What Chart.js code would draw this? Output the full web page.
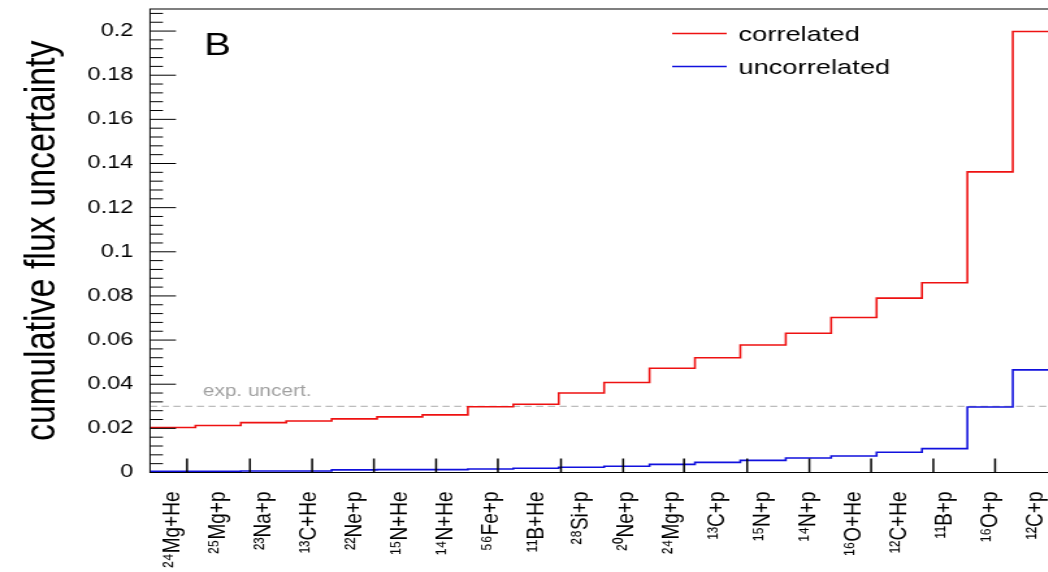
<!DOCTYPE html>
<html>
<head>
<meta charset="utf-8">
<script src="https://cdn.jsdelivr.net/npm/chart.js@4"></script>
<style>
  html, body { margin: 0; padding: 0; background: #fff; overflow: hidden; }
  /* a figura original está esticada na horizontal */
  #wrap { width: 830px; height: 572px; transform: scaleX(1.3); transform-origin: 0 0; }
</style>
</head>
<body>
<div id="wrap"><canvas id="grafico" width="830" height="572"></canvas></div>
<script>
var categorias = ['²⁴Mg+He', '²⁵Mg+p', '²³Na+p', '¹³C+He', '²²Ne+p', '¹⁵N+He', '¹⁴N+He', '⁵⁶Fe+p',
  '¹¹B+He', '²⁸Si+p', '²⁰Ne+p', '²⁴Mg+p', '¹³C+p', '¹⁵N+p', '¹⁴N+p', '¹⁶O+He', '¹²C+He',
  '¹¹B+p', '¹⁶O+p', '¹²C+p'];
var correlated = [0.0204, 0.0213, 0.0226, 0.0233, 0.0243, 0.0252, 0.0261, 0.0298, 0.0309, 0.0360,
  0.0408, 0.0472, 0.0520, 0.0578, 0.0631, 0.0702, 0.0790, 0.0860, 0.1362, 0.1998];
var uncorrelated = [0.0006, 0.0006, 0.0007, 0.0007, 0.0012, 0.0013, 0.0013, 0.0016, 0.0019, 0.0024,
  0.0028, 0.0037, 0.0046, 0.0055, 0.0066, 0.0075, 0.0092, 0.0108, 0.0297, 0.0465];
var expUncert = 0.03;
var yTicks = [0, 0.02, 0.04, 0.06, 0.08, 0.1, 0.12, 0.14, 0.16, 0.18, 0.2];
var yTickLabels = ['0', '0.02', '0.04', '0.06', '0.08', '0.1', '0.12', '0.14', '0.16', '0.18', '0.2'];
var xTickMarks = [0.815, 2.2, 3.57, 4.93, 6.3, 7.66, 9.05, 10.42, 11.76, 13.15, 14.52, 15.88, 17.25, 18.61, 19.98];

var fonte = 'Liberation Sans, Arial, Helvetica, sans-serif';

// pontos do histograma em degraus (borda esquerda de cada bin)
function degraus(vals) {
  var pts = vals.map(function(v, i) { return { x: i, y: v }; });
  pts.push({ x: vals.length, y: vals[vals.length - 1] });
  return pts;
}

// moldura, marcas internas estilo ROOT, legenda e textos
var moldura = {
  id: 'moldura',
  afterDatasetsDraw: function(chart) {
    var ctx = chart.ctx, a = chart.chartArea;
    var sx = chart.scales.x, sy = chart.scales.y;
    ctx.save();
    ctx.strokeStyle = '#000';
    ctx.lineWidth = 1;
    ctx.strokeRect(a.left, a.top, a.right - a.left, a.bottom - a.top);

    // marcas do eixo y
    ctx.beginPath();
    yTicks.forEach(function(v) {
      var p = sy.getPixelForValue(v);
      ctx.moveTo(a.left, p); ctx.lineTo(a.left + 20, p);
      for (var k = 1; k < 5; k++) {
        var m = v + k * 0.004;
        if (m >= sy.max) break;
        var q = sy.getPixelForValue(m);
        ctx.moveTo(a.left, q); ctx.lineTo(a.left + 10, q);
      }
    });
    ctx.stroke();

    // marcas do eixo x
    ctx.lineWidth = 1.5;
    ctx.beginPath();
    xTickMarks.forEach(function(v) {
      var p = sx.getPixelForValue(v);
      ctx.moveTo(p, a.bottom); ctx.lineTo(p, a.bottom - 14);
    });
    ctx.stroke();

    // legenda
    ctx.font = '21px ' + fonte;
    ctx.textBaseline = 'alphabetic';
    ctx.textAlign = 'left';
    [[0, 33.5, 41], [1, 66.5, 74]].forEach(function(l) {
      var ds = chart.data.datasets[l[0]];
      ctx.strokeStyle = ds.borderColor;
      ctx.lineWidth = 1.6;
      ctx.beginPath();
      ctx.moveTo(517, l[1]); ctx.lineTo(559, l[1]);
      ctx.stroke();
      ctx.fillStyle = '#000';
      ctx.fillText(ds.label, 568, l[2]);
    });

    ctx.fillStyle = '#000';
    ctx.font = '31px ' + fonte;
    ctx.fillText('B', 157, 55);

    ctx.fillStyle = '#a0a0a0';
    ctx.font = '16px ' + fonte;
    ctx.fillText('exp. uncert.', 156, 396);
    ctx.restore();
  }
};

var myChart = new Chart(document.getElementById('grafico'), {
  type: 'line',
  data: {
    datasets: [{
      label: 'correlated',
      data: degraus(correlated),
      borderColor: '#ee1111',
      borderWidth: 1.6,
      stepped: 'before',
      pointRadius: 0,
      fill: false
    }, {
      label: 'uncorrelated',
      data: degraus(uncorrelated),
      borderColor: '#1111dd',
      borderWidth: 1.6,
      stepped: 'before',
      pointRadius: 0,
      fill: false
    }, {
      label: 'exp. uncert.',
      data: [{ x: 0, y: expUncert }, { x: categorias.length, y: expUncert }],
      borderColor: '#aaaaaa',
      borderWidth: 1,
      borderDash: [5.5, 3.5],
      pointRadius: 0,
      fill: false
    }]
  },
  plugins: [moldura],
  options: {
    responsive: false,
    animation: false,
    devicePixelRatio: 1,
    layout: { padding: { top: 9, left: 0, right: 16, bottom: 0 } },
    plugins: {
      legend: { display: false },
      tooltip: { enabled: false }
    },
    scales: {
      x: {
        type: 'linear',
        min: 0,
        max: categorias.length,
        grid: { display: false, drawTicks: false },
        border: { display: false },
        afterBuildTicks: function(s) {
          s.ticks = categorias.map(function(c, i) { return { value: i + 0.5 }; });
        },
        afterFit: function(s) {
          s.height = 99.5;
          s.paddingLeft = 0;
          s.paddingRight = 0;
        },
        ticks: {
          autoSkip: false,
          minRotation: 90,
          maxRotation: 90,
          padding: 19,
          color: '#000',
          font: { family: fonte, size: 19 },
          callback: function(v, i) { return categorias[i]; }
        }
      },
      y: {
        type: 'linear',
        min: 0,
        max: 0.21,
        grid: { display: false, drawTicks: false },
        border: { display: false },
        afterBuildTicks: function(s) {
          s.ticks = yTicks.map(function(v) { return { value: v }; });
        },
        afterFit: function(s) {
          s.width = 115.4;
          s.paddingTop = 0;
          s.paddingBottom = 0;
        },
        ticks: {
          padding: 13,
          color: '#000',
          font: { family: fonte, size: 18 },
          callback: function(v, i) { return yTickLabels[i]; }
        },
        title: {
          display: true,
          text: 'cumulative flux uncertainty',
          color: '#000',
          font: { family: fonte, size: 34 },
          padding: { top: 12, bottom: 0 }
        }
      }
    }
  }
});
</script>
</body>
</html>
